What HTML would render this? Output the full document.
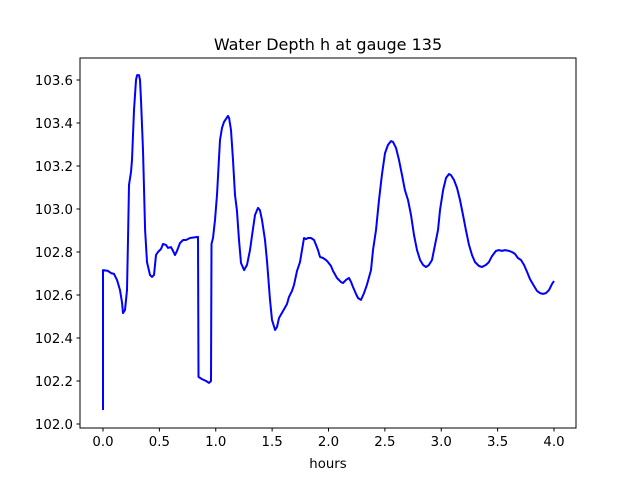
<!DOCTYPE html>
<html><head><meta charset="utf-8"><style>
html,body{margin:0;padding:0;background:#fff;}
svg{display:block;font-family:"DejaVu Sans","Liberation Sans",sans-serif;}
</style></head><body>
<svg id="chart" width="640" height="480" viewBox="0 0 640 480">
<rect width="640" height="480" fill="#fff"/>
<text x="328" y="50" font-size="16" text-anchor="middle">Water Depth h at gauge 135</text>
<g id="xticks"></g>
<g id="yticks"></g>
<polyline id="line" fill="none" stroke="#0000ff" stroke-width="2" stroke-linejoin="round"/>
<rect x="80" y="58" width="496" height="370" fill="none" stroke="#000" stroke-width="1"/>
<text x="328" y="468" font-size="13.3" text-anchor="middle">hours</text>
</svg>
<script>
const hours=[0,0,0.044,0.071,0.098,0.124,0.151,0.169,0.177,0.195,0.213,0.222,0.231,0.248,0.257,0.275,0.293,0.302,0.319,0.328,0.337,0.355,0.373,0.390,0.417,0.435,0.452,0.470,0.488,0.514,0.532,0.559,0.576,0.603,0.621,0.639,0.656,0.683,0.710,0.736,0.772,0.843,0.847,0.878,0.914,0.940,0.958,0.962,0.976,0.993,1.011,1.029,1.038,1.055,1.073,1.109,1.118,1.135,1.153,1.171,1.188,1.206,1.224,1.251,1.277,1.304,1.322,1.348,1.375,1.392,1.410,1.437,1.455,1.481,1.499,1.526,1.543,1.561,1.597,1.632,1.650,1.676,1.694,1.721,1.747,1.783,1.800,1.818,1.845,1.871,1.889,1.907,1.925,1.951,1.978,1.996,2.022,2.040,2.075,2.111,2.129,2.155,2.182,2.200,2.217,2.244,2.262,2.288,2.315,2.341,2.377,2.395,2.421,2.448,2.474,2.501,2.528,2.554,2.572,2.599,2.625,2.652,2.678,2.705,2.732,2.758,2.785,2.812,2.838,2.865,2.891,2.918,2.945,2.971,2.989,3.016,3.042,3.069,3.086,3.113,3.140,3.166,3.193,3.219,3.246,3.273,3.299,3.335,3.361,3.397,3.423,3.450,3.486,3.512,3.539,3.565,3.601,3.627,3.654,3.680,3.707,3.734,3.761,3.787,3.823,3.849,3.876,3.902,3.929,3.956,3.982,4.0];
const depth=[102.065,102.716,102.712,102.702,102.698,102.670,102.623,102.563,102.516,102.530,102.623,102.856,103.112,103.172,103.228,103.460,103.600,103.623,103.623,103.600,103.507,103.274,102.902,102.753,102.693,102.684,102.693,102.786,102.800,102.814,102.837,102.833,102.819,102.823,102.805,102.786,102.805,102.842,102.856,102.856,102.865,102.870,102.219,102.209,102.200,102.191,102.200,102.837,102.865,102.949,103.065,103.237,103.321,103.377,103.405,103.433,103.423,103.367,103.228,103.065,102.995,102.856,102.749,102.716,102.740,102.809,102.879,102.972,103.005,102.995,102.949,102.856,102.753,102.577,102.484,102.437,102.451,102.493,102.526,102.558,102.591,102.619,102.647,102.712,102.753,102.865,102.860,102.865,102.865,102.856,102.833,102.809,102.777,102.772,102.763,102.753,102.735,102.712,102.679,102.660,102.656,102.670,102.679,102.660,102.637,102.605,102.586,102.577,102.609,102.647,102.716,102.809,102.902,103.042,103.158,103.260,103.298,103.316,103.312,103.284,103.228,103.158,103.088,103.042,102.972,102.879,102.809,102.763,102.740,102.730,102.740,102.763,102.833,102.902,102.995,103.088,103.144,103.163,103.158,103.135,103.098,103.042,102.972,102.902,102.833,102.786,102.753,102.735,102.730,102.740,102.753,102.781,102.805,102.809,102.805,102.809,102.805,102.800,102.791,102.772,102.763,102.740,102.707,102.674,102.642,102.619,102.609,102.605,102.609,102.623,102.651,102.665];
const xTickValues=[0,0.5,1,1.5,2,2.5,3,3.5,4];
const xTickLabels=["0.0","0.5","1.0","1.5","2.0","2.5","3.0","3.5","4.0"];
const yTickValues=[102.0,102.2,102.4,102.6,102.8,103.0,103.2,103.4,103.6];
const yTickLabels=["102.0","102.2","102.4","102.6","102.8","103.0","103.2","103.4","103.6"];

const NS="http://www.w3.org/2000/svg";
const X0=103,XS=112.75,Y0=424,YS=215,YMIN=102.0;
function sx(h){return X0+h*XS;}
function sy(d){return Y0-(d-YMIN)*YS;}

const pts=hours.map((h,i)=>sx(h).toFixed(1)+","+sy(depth[i]).toFixed(1)).join(" ");
document.getElementById("line").setAttribute("points",pts);

const xg=document.getElementById("xticks");
xTickValues.forEach((v,i)=>{
  const x=sx(v);
  const t=document.createElementNS(NS,"line");
  t.setAttribute("x1",x);t.setAttribute("x2",x);t.setAttribute("y1",428);t.setAttribute("y2",431.5);
  t.setAttribute("stroke","#000");
  
  
  xg.appendChild(t);
  const l=document.createElementNS(NS,"text");
  l.setAttribute("x",x);l.setAttribute("y",446);l.setAttribute("font-size","13.3");l.setAttribute("text-anchor","middle");
  l.textContent=xTickLabels[i];
  
  
  xg.appendChild(l);
});
const yg=document.getElementById("yticks");
yTickValues.forEach((v,i)=>{
  const y=sy(v);
  const t=document.createElementNS(NS,"line");
  t.setAttribute("x1",76.5);t.setAttribute("x2",80);t.setAttribute("y1",y);t.setAttribute("y2",y);
  t.setAttribute("stroke","#000");
  
  
  yg.appendChild(t);
  const l=document.createElementNS(NS,"text");
  l.setAttribute("x",73);l.setAttribute("y",y+5);l.setAttribute("font-size","13.3");l.setAttribute("text-anchor","end");
  l.textContent=yTickLabels[i];
  
  
  yg.appendChild(l);
});
</script>
</body></html>
